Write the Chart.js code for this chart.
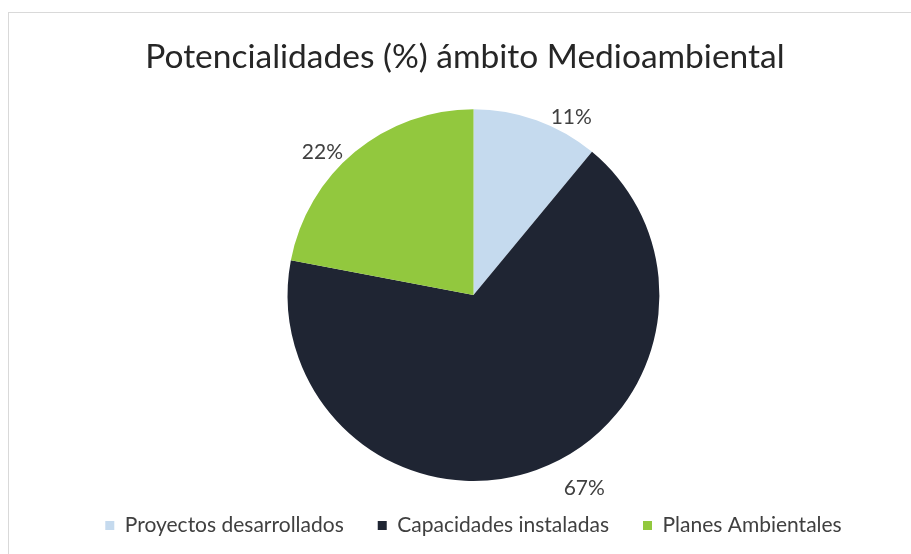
<!DOCTYPE html>
<html>
<head>
<meta charset="utf-8">
<script src="https://cdn.jsdelivr.net/npm/chart.js@4"></script>
<style>
  html, body { margin: 0; padding: 0; background: #fff; overflow: hidden; }
  #box {
    position: absolute; left: 8px; top: 12px;
    width: 930px; height: 554px;
    border-top: 1px solid #d9d9d9; border-left: 1px solid #d9d9d9;
  }
  #myChart { display: block; }
</style>
</head>
<body>
<div id="box"><canvas id="myChart" width="929" height="533"></canvas></div>
<script>
const categories = ['Proyectos desarrollados', 'Capacidades instaladas', 'Planes Ambientales'];
const values = [11, 67, 22];
const sliceColors = ['#c5daee', '#1f2533', '#92c83e'];

// Excel "best fit" label placement: angle nudge (deg) and distance past the rim
const labelNudge = [
  { angle: 9, out: 17 },
  { angle: -10, out: 37 },
  { angle: -7, out: 22 }
];

const pieLabels = {
  id: 'pieLabels',
  afterDatasetsDraw(chart) {
    const ctx = chart.ctx;
    const meta = chart.getDatasetMeta(0);
    ctx.save();
    ctx.font = '21px Lato';
    ctx.fillStyle = '#404040';
    ctx.textAlign = 'center';
    ctx.textBaseline = 'middle';
    meta.data.forEach((arc, i) => {
      const p = arc.getProps(['x', 'y', 'startAngle', 'endAngle', 'outerRadius'], true);
      const mid = (p.startAngle + p.endAngle) / 2 + labelNudge[i].angle * Math.PI / 180;
      const r = p.outerRadius + labelNudge[i].out;
      ctx.fillText(values[i] + '%', p.x + r * Math.cos(mid), p.y + r * Math.sin(mid));
    });
    ctx.restore();
  }
};

const ctx = document.getElementById('myChart').getContext('2d');
const myChart = new Chart(ctx, {
  type: 'pie',
  data: {
    labels: categories,
    datasets: [{
      data: values,
      backgroundColor: sliceColors,
      borderWidth: 0
    }]
  },
  options: {
    responsive: false,
    animation: false,
    devicePixelRatio: 1,
    layout: { padding: 0 },
    plugins: {
      title: {
        display: true,
        // trailing spaces nudge the centred title a little left, as in the original
        text: 'Potencialidades (%) ámbito Medioambiental  ',
        color: '#262626',
        font: { family: 'Lato', size: 33.5, weight: 400 },
        padding: { top: 24, bottom: 32 }
      },
      legend: {
        position: 'bottom',
        labels: {
          color: '#404040',
          font: { family: 'Lato', size: 21, weight: 400 },
          boxWidth: 9,
          boxHeight: 9,
          padding: 34
        }
      },
      tooltip: { enabled: false }
    }
  },
  plugins: [pieLabels]
});
</script>
</body>
</html>
